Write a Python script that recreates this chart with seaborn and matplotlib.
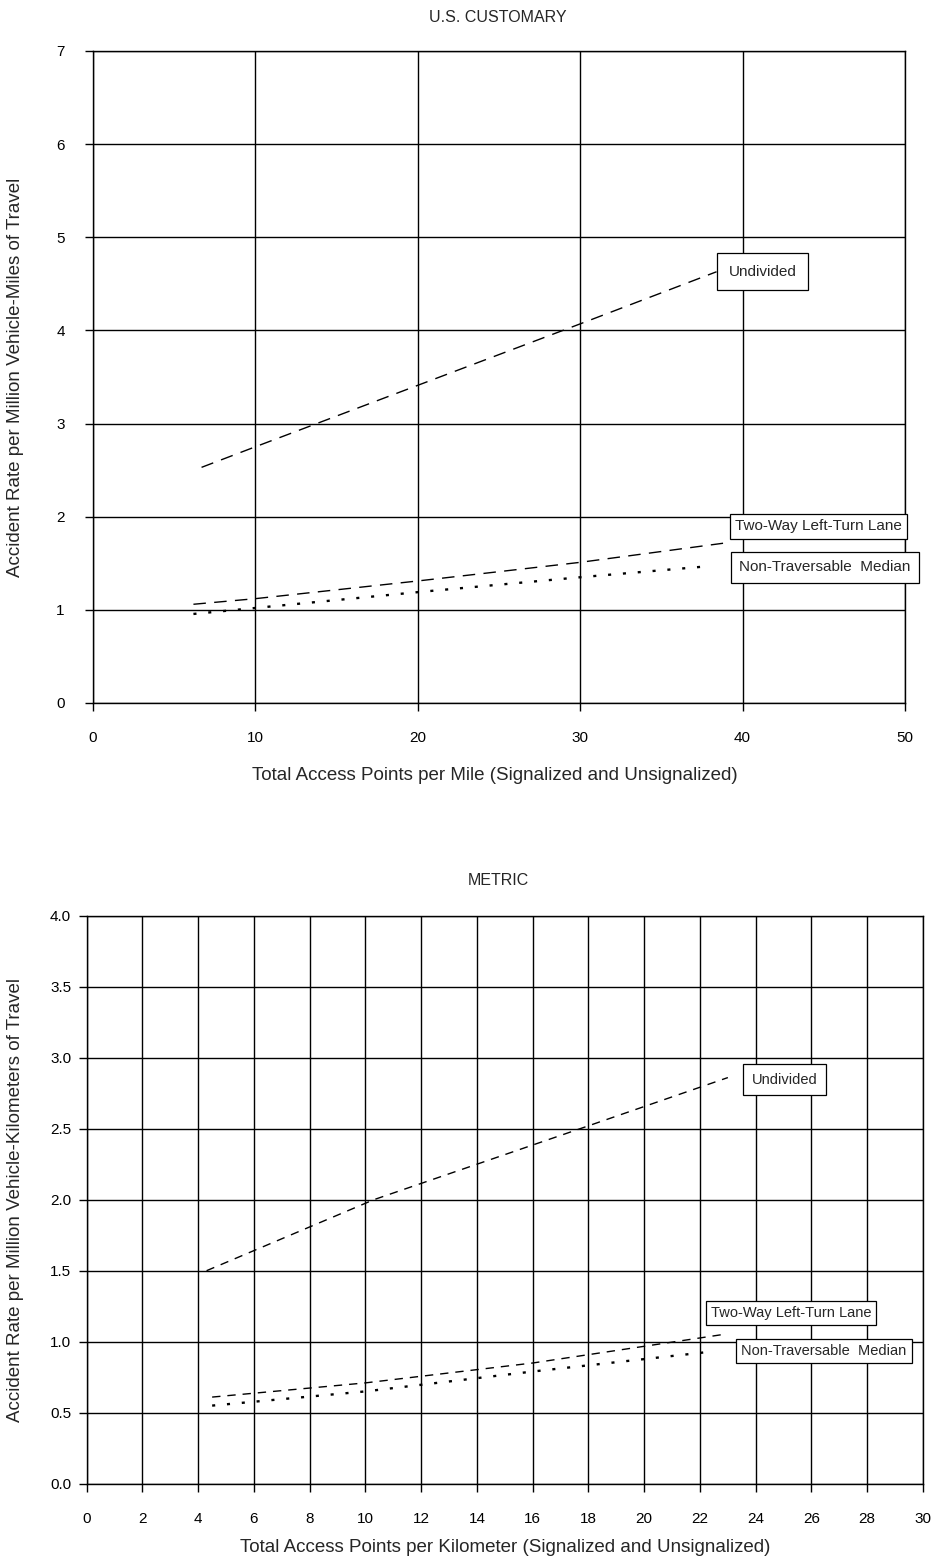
import matplotlib
matplotlib.use("Agg")
import matplotlib.pyplot as plt
import pandas as pd
import seaborn as sns

# ---- U.S. customary panel (per mile) ----
us_undiv_x = [6.7, 10, 20, 30, 38.4]
us_undiv_y = [2.53, 2.75, 3.41, 4.07, 4.63]
us_twltl_x = [6.2, 10, 20, 30, 38.8]
us_twltl_y = [1.06, 1.12, 1.31, 1.51, 1.715]
us_ntm_x = [6.2, 10, 20, 30, 38.0]
us_ntm_y = [0.956, 1.02, 1.19, 1.35, 1.47]

# ---- metric panel (per kilometer) ----
m_undiv_x = [4.3, 10.3, 17.7, 23.0]
m_undiv_y = [1.50, 2.00, 2.50, 2.86]
m_twltl_x = [4.5, 10, 16, 22.8]
m_twltl_y = [0.61, 0.71, 0.85, 1.05]
m_ntm_x = [4.5, 10, 16, 22.4]
m_ntm_y = [0.55, 0.65, 0.79, 0.93]

series_names = ["Undivided", "Two-Way Left-Turn Lane", "Non-Traversable  Median"]

us_xticks = [0, 10, 20, 30, 40, 50]
us_yticks = [0, 1, 2, 3, 4, 5, 6, 7]
m_xticks = list(range(0, 31, 2))
m_yticks = [0.0, 0.5, 1.0, 1.5, 2.0, 2.5, 3.0, 3.5, 4.0]

sns.set_style("white")
plt.rcParams["font.family"] = ["Liberation Sans", "DejaVu Sans"]

W, H = 931, 1567
fig = plt.figure(figsize=(W / 100, H / 100), dpi=100)


def px_axes(left, top, right, bottom):
    return fig.add_axes([left / W, 1 - bottom / H, (right - left) / W, (bottom - top) / H])


ax1 = px_axes(92.7, 51, 905, 703)
ax2 = px_axes(86.7, 915.7, 923, 1483.7)

dash_us = (0, (9, 6))
dash_m = (0, (6, 5))
dot = (0, (1.3, 5.0))


def draw_series(ax, xs, ys, ls, lw):
    df = pd.DataFrame({"x": xs, "y": ys})
    sns.lineplot(data=df, x="x", y="y", ax=ax, color="black", linewidth=lw,
                 linestyle=ls, estimator=None, sort=False)


draw_series(ax1, us_undiv_x, us_undiv_y, dash_us, 1.0)
draw_series(ax1, us_twltl_x, us_twltl_y, dash_us, 1.0)
draw_series(ax1, us_ntm_x, us_ntm_y, dot, 1.7)

draw_series(ax2, m_undiv_x, m_undiv_y, dash_m, 1.0)
draw_series(ax2, m_twltl_x, m_twltl_y, dash_m, 1.0)
draw_series(ax2, m_ntm_x, m_ntm_y, dot, 1.7)


def style_axes(ax, xticks, yticks, ylabels, xpad, ypad, ticklen):
    ax.set_xlim(xticks[0], xticks[-1])
    ax.set_ylim(yticks[0], yticks[-1])
    ax.set_xticks(xticks)
    ax.set_yticks(yticks)
    ax.set_yticklabels(ylabels)
    ax.set_xlabel("")
    ax.set_ylabel("")
    ax.grid(True, color="black", linewidth=1.0)
    ax.set_axisbelow(True)
    for s in ax.spines.values():
        s.set_color("black")
        s.set_linewidth(1.0)
    ax.tick_params(axis="both", direction="out", color="black", width=1.0,
                   length=ticklen, labelsize=11, labelcolor="black")
    ax.tick_params(axis="x", pad=xpad, bottom=True)
    ax.tick_params(axis="y", pad=ypad, left=True)


style_axes(ax1, us_xticks, us_yticks, [str(v) for v in us_yticks], 14.5, 14.5, 5.6)
style_axes(ax2, m_xticks, m_yticks, [f"{v:.1f}" for v in m_yticks], 15, 5.6, 5.6)

# line labels in boxes
us_label_pos = [(41.22, 4.63), (44.67, 1.895), (45.07, 1.455)]
m_label_pos = [(25.03, 2.845), (25.26, 1.203), (26.45, 0.933)]
us_pads = [0.75, 0.35, 0.55]
m_pads = [0.6, 0.35, 0.35]

for name, (x, y), p in zip(series_names, us_label_pos, us_pads):
    ax1.text(x, y, name, ha="center", va="center", fontsize=11, clip_on=False,
             bbox=dict(boxstyle=f"square,pad={p}", fc="white", ec="black", lw=0.9))
for name, (x, y), p in zip(series_names, m_label_pos, m_pads):
    ax2.text(x, y, name, ha="center", va="center", fontsize=10.5, clip_on=False,
             bbox=dict(boxstyle=f"square,pad={p}", fc="white", ec="black", lw=0.9))

# titles and axis titles
fig.text(498 / W, 1 - 18 / H, "U.S. CUSTOMARY", ha="center", va="center", fontsize=11.5)
fig.text(498 / W, 1 - 880 / H, "METRIC", ha="center", va="center", fontsize=11.5)
fig.text(495 / W, 1 - 775 / H, "Total Access Points per Mile (Signalized and Unsignalized)",
         ha="center", va="center", fontsize=13.5)
fig.text(505 / W, 1 - 1548 / H, "Total Access Points per Kilometer (Signalized and Unsignalized)",
         ha="center", va="center", fontsize=13.5)
fig.text(16 / W, 1 - 377 / H, "Accident Rate per Million Vehicle-Miles of Travel",
         ha="center", va="center", rotation=90, fontsize=13.5)
fig.text(16 / W, 1 - 1200 / H, "Accident Rate per Million Vehicle-Kilometers of Travel",
         ha="center", va="center", rotation=90, fontsize=13.5)

fig.savefig("out.png", dpi=100, facecolor="white")
